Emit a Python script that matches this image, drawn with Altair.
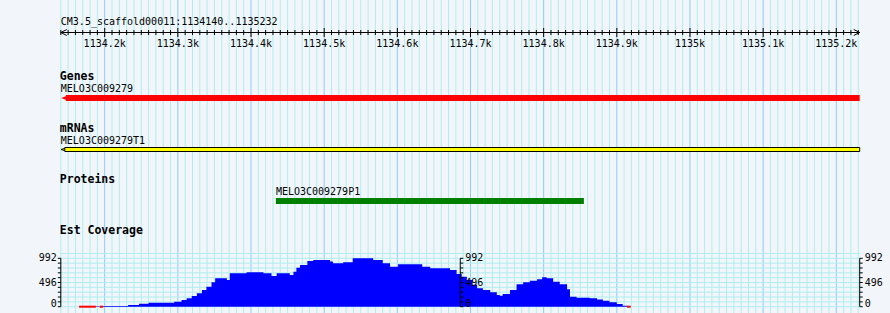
import altair as alt
import pandas as pd
import numpy as np

# ---------------- data ----------------
REF_NAME = "CM3.5_scaffold00011"
REGION_START = 1134140
REGION_END = 1135232

ruler_tick_pos = [1134200, 1134300, 1134400, 1134500, 1134600, 1134700,
                  1134800, 1134900, 1135000, 1135100, 1135200]
ruler_tick_labels = ["1134.2k", "1134.3k", "1134.4k", "1134.5k", "1134.6k", "1134.7k",
                     "1134.8k", "1134.9k", "1135k", "1135.1k", "1135.2k"]

gene_name = "MELO3C009279"
gene_start, gene_end = 1134140, 1135232
mrna_name = "MELO3C009279T1"
mrna_start, mrna_end = 1134140, 1135232
protein_name = "MELO3C009279P1"
protein_start, protein_end = 1134434, 1134855

cov_pos = [1134188, 1134193, 1134198, 1134232, 1134247, 1134260, 1134295, 1134305, 1134312,
           1134319, 1134326, 1134333, 1134339, 1134346, 1134351, 1134367, 1134371, 1134394,
           1134417, 1134428, 1134435, 1134453, 1134458, 1134462, 1134467, 1134477, 1134485,
           1134508, 1134512, 1134526, 1134539, 1134567, 1134580, 1134590, 1134601, 1134634,
           1134645, 1134672, 1134681, 1134688, 1134695, 1134703, 1134709, 1134717, 1134727,
           1134736, 1134740, 1134744, 1134754, 1134763, 1134772, 1134781, 1134791, 1134798,
           1134804, 1134813, 1134822, 1134832, 1134836, 1134845, 1134863, 1134873, 1134881,
           1134890, 1134900, 1134908, 1134914]
cov_val = [10, 0, 14, 34, 62, 82, 103, 137, 171, 219, 274, 342, 410, 500, 581, 547, 684, 705,
           684, 630, 684, 650, 718, 800, 855, 937, 958, 924, 889, 910, 992, 958, 889, 821,
           869, 821, 787, 753, 670, 616, 547, 450, 376, 342, 294, 240, 226, 260, 342, 458,
           499, 534, 561, 602, 581, 513, 458, 356, 205, 185, 171, 150, 123, 89, 55, 21, 0]
cov_max = 992
cov_axis_labels = ["0", "496", "992"]
cov_axis_values = [0, 496, 992]

zero_start = [1134165, 1134193, 1134914]
zero_end = [1134188, 1134198, 1134919]

# ---------------- styling ----------------
W, H = 890, 313
BG = "#F2F6FA"
MINOR = "#AFEEEE"
MAJOR = "#87CEFA"
MONO = "DejaVu Sans Mono"

px_per_bp = 0.7316
left_px = 60.8
XS = alt.Scale(domain=[REGION_START - left_px / px_per_bp,
                       REGION_START + (W - left_px) / px_per_bp],
               nice=False, zero=False)
YS = alt.Scale(domain=[0, cov_max], range=[306.7, 258.3], nice=False, zero=True)

def X(field="pos"):
    return alt.X(f"{field}:Q", scale=XS, axis=None)

def Yc(field="v"):
    return alt.Y(f"{field}:Q", scale=YS, axis=None)

# ---------------- tables ----------------
grid_pos = list(range(REGION_START, REGION_END, 10))
grid_df = pd.DataFrame({"pos": grid_pos, "major": [p % 100 == 0 for p in grid_pos]})
minor_df = grid_df[~grid_df.major]
major_df = grid_df[grid_df.major]

ruler_df = pd.DataFrame({"pos": ruler_tick_pos, "label": ruler_tick_labels})
region_df = pd.DataFrame({"start": [REGION_START], "end": [REGION_END]})

hgrid_vals = [i * cov_max / 10 for i in range(12)]
hgrid_df = pd.DataFrame({"v": hgrid_vals, "start": REGION_START, "end": REGION_END})

cov_df = pd.DataFrame({"pos": cov_pos, "v": cov_val})
zero_df = pd.DataFrame({"start": zero_start, "end": zero_end, "v": 0})

mid = (REGION_START + REGION_END) / 2
axes_pos = [REGION_START, mid, REGION_END]
tick_rows = [{"pos": p, "v": i * cov_max / 10, "side": s}
             for p, s in zip(axes_pos, ["l", "r", "r"]) for i in range(11)]
ticks_df = pd.DataFrame(tick_rows)
axis_line_df = pd.DataFrame({"pos": axes_pos, "v0": 0, "v1": cov_max})
lab_rows = [{"pos": p, "v": v, "label": l, "side": s}
            for p, s in zip(axes_pos, ["l", "r", "r"])
            for v, l in zip(cov_axis_values, cov_axis_labels)]
lab_df = pd.DataFrame(lab_rows)

# ---------------- layers ----------------
layers = []

# vertical grid
layers.append(alt.Chart(minor_df).mark_rule(color=MINOR, strokeWidth=1).encode(
    x=X(), y=alt.value(0), y2=alt.value(H)))
layers.append(alt.Chart(major_df).mark_rule(color=MAJOR, strokeWidth=1).encode(
    x=X(), y=alt.value(0), y2=alt.value(H)))
# horizontal grid in coverage track
layers.append(alt.Chart(hgrid_df).mark_rule(color=MINOR, strokeWidth=1).encode(
    x=X("start"), x2="end:Q", y=Yc()))

# ruler
layers.append(alt.Chart(region_df).mark_rule(color="black", strokeWidth=1).encode(
    x=X("start"), x2="end:Q", y=alt.value(32.5)))
layers.append(alt.Chart(minor_df).mark_rule(color="black", strokeWidth=1).encode(
    x=X(), y=alt.value(30), y2=alt.value(35)))
layers.append(alt.Chart(major_df).mark_rule(color="black", strokeWidth=1).encode(
    x=X(), y=alt.value(28), y2=alt.value(37)))
layers.append(alt.Chart(region_df).mark_point(
    shape="M 1 -1 L -1 0 L 1 1", filled=False, color="black", strokeWidth=1,
    size=36, xOffset=3, opacity=1).encode(x=X("start"), y=alt.value(32.5)))
layers.append(alt.Chart(region_df).mark_point(
    shape="M -1 -1 L 1 0 L -1 1", filled=False, color="black", strokeWidth=1,
    size=36, xOffset=-3, opacity=1).encode(x=X("end"), y=alt.value(32.5)))
layers.append(alt.Chart(ruler_df).mark_text(
    font=MONO, fontSize=10, align="center", baseline="alphabetic", color="black").encode(
    x=X(), y=alt.value(46.5), text="label:N"))
layers.append(alt.Chart(pd.DataFrame({"pos": [REGION_START],
                                      "label": [f"{REF_NAME}:{REGION_START}..{REGION_END}"]}))
              .mark_text(font=MONO, fontSize=10, align="left", baseline="alphabetic",
                         color="black").encode(x=X(), y=alt.value(25), text="label:N"))

# track titles
titles_df = pd.DataFrame({"pos": [REGION_START] * 4,
                          "label": ["Genes", "mRNAs", "Proteins", "Est Coverage"],
                          "y": [80, 132, 183, 234]})
for _, r in titles_df.iterrows():
    layers.append(alt.Chart(pd.DataFrame([r])).mark_text(
        font=MONO, fontSize=11.5, fontWeight="bold", align="left", baseline="alphabetic",
        dx=-1, color="black").encode(x=X(), y=alt.value(r["y"]), text="label:N"))

# genes
gene_df = pd.DataFrame({"start": [gene_start], "end": [gene_end], "label": [gene_name]})
layers.append(alt.Chart(gene_df).mark_text(font=MONO, fontSize=10, align="left",
                                           baseline="alphabetic", color="black").encode(
    x=X("start"), y=alt.value(91.5), text="label:N"))
layers.append(alt.Chart(gene_df).mark_rect(color="#FF0000", xOffset=5).encode(
    x=X("start"), x2="end:Q", y=alt.value(95), y2=alt.value(101)))
layers.append(alt.Chart(gene_df).mark_point(
    shape="M -1 0 L 1 -0.7 L 1 0.7 Z", filled=True, color="#FF0000", size=30,
    xOffset=3, opacity=1).encode(x=X("start"), y=alt.value(98)))

# mRNAs
mrna_df = pd.DataFrame({"start": [mrna_start], "end": [mrna_end], "label": [mrna_name]})
layers.append(alt.Chart(mrna_df).mark_text(font=MONO, fontSize=10, align="left",
                                           baseline="alphabetic", color="black").encode(
    x=X("start"), y=alt.value(143.5), text="label:N"))
layers.append(alt.Chart(mrna_df).mark_point(
    shape="M -1 0 L 1 -0.6 L 1 0.6 Z", filled=True, fill="#FFFF00", stroke="black",
    strokeWidth=1, size=30, xOffset=3, opacity=1).encode(x=X("start"), y=alt.value(149.5)))
layers.append(alt.Chart(mrna_df).mark_rect(fill="#FFFF00", stroke="black", strokeWidth=1,
                                           xOffset=4).encode(
    x=X("start"), x2="end:Q", y=alt.value(147.5), y2=alt.value(151.5)))

# proteins
prot_df = pd.DataFrame({"start": [protein_start], "end": [protein_end], "label": [protein_name]})
layers.append(alt.Chart(prot_df).mark_text(font=MONO, fontSize=10, align="left",
                                           baseline="alphabetic", color="black").encode(
    x=X("start"), y=alt.value(195), text="label:N"))
layers.append(alt.Chart(prot_df).mark_rect(color="#008000").encode(
    x=X("start"), x2="end:Q", y=alt.value(198), y2=alt.value(204)))

# coverage
layers.append(alt.Chart(cov_df).mark_area(color="#0000FF", interpolate="step-after",
                                          opacity=1).encode(x=X(), y=Yc()))
layers.append(alt.Chart(zero_df).mark_rule(color="#FF0000", strokeWidth=2).encode(
    x=X("start"), x2="end:Q", y=Yc()))

# coverage axes
layers.append(alt.Chart(axis_line_df).mark_rule(color="black", strokeWidth=1).encode(
    x=X(), y=Yc("v0"), y2="v1:Q"))
layers.append(alt.Chart(ticks_df[ticks_df.side == "l"]).mark_rule(
    color="black", strokeWidth=1, x2Offset=-3).encode(x=X(), x2="pos:Q", y=Yc()))
layers.append(alt.Chart(ticks_df[ticks_df.side == "r"]).mark_rule(
    color="black", strokeWidth=1, x2Offset=3).encode(x=X(), x2="pos:Q", y=Yc()))
for side, align, dx in [("l", "right", -4), ("r", "left", 5)]:
    sub = lab_df[lab_df.side == side]
    layers.append(alt.Chart(sub[sub.v > 0]).mark_text(
        font=MONO, fontSize=10, align=align, baseline="middle", dx=dx, color="black").encode(
        x=X(), y=Yc(), text="label:N"))
    layers.append(alt.Chart(sub[sub.v == 0]).mark_text(
        font=MONO, fontSize=10, align=align, baseline="alphabetic", dx=dx, color="black").encode(
        x=X(), y=Yc(), text="label:N"))

chart = alt.layer(*layers).properties(
    width=W, height=H, padding=0,
    autosize=alt.AutoSizeParams(type="none"),
    background=BG,
).configure_view(stroke=None)

chart.save("out.html", embed_options={"renderer": "svg", "actions": False})
